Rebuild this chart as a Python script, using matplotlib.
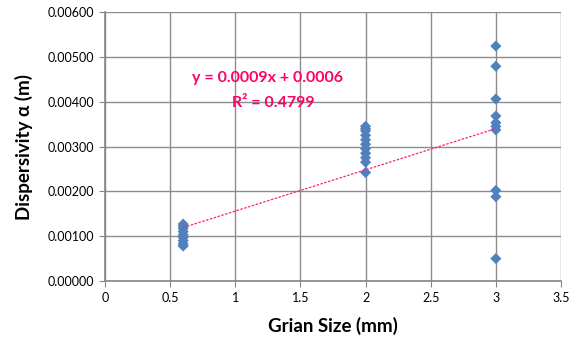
import numpy as np
import matplotlib.pyplot as plt

plt.rcParams['font.family'] = ['Lato', 'DejaVu Sans']

# grain size (mm) and measured dispersivity (m)
size_06 = [0.00078, 0.00083, 0.00090, 0.00097, 0.00103, 0.00110, 0.00117, 0.00122, 0.00127]
size_2 = [0.00242, 0.00265, 0.00275, 0.00285, 0.00295, 0.00305, 0.00315, 0.00325, 0.00335, 0.00340, 0.00345]
size_3 = [0.00524, 0.00479, 0.00406, 0.00368, 0.00353, 0.00345, 0.00337, 0.00202, 0.00188, 0.00050]

x = np.array([0.6] * len(size_06) + [2] * len(size_2) + [3] * len(size_3))
y = np.array(size_06 + size_2 + size_3)

# linear trendline
trend_slope = 0.00092
trend_intercept = 0.00064
eq_text = 'y = 0.0009x + 0.0006'
r2_text = 'R² = 0.4799'

fig = plt.figure(figsize=(5.76, 3.49), dpi=100)
ax = fig.add_axes([105 / 576, 1 - 281 / 349, 456 / 576, 269 / 349])

xl = np.array([x.min(), x.max()])
ax.plot(xl, trend_slope * xl + trend_intercept, color='#FF1F7A', linestyle=(0, (2, 1.2)),
        linewidth=0.9, zorder=3)

ax.scatter(x, y, marker='D', s=32, color='#4F81BD', edgecolors='none', zorder=2)

ax.text(1.25, 0.00452, eq_text, color='#FF0066', fontsize=11.5, fontweight='bold', ha='center', va='center')
ax.text(1.29, 0.00397, r2_text, color='#FF0066', fontsize=11.5, fontweight='bold', ha='center', va='center')

ax.set_xlim(0, 3.5)
ax.set_ylim(0, 0.006)
ax.set_xticks(np.arange(0, 3.51, 0.5))
ax.set_xticklabels(['0', '0.5', '1', '1.5', '2', '2.5', '3', '3.5'])
ax.set_yticks(np.arange(0, 0.00601, 0.001))
ax.set_yticklabels([f'{v:.5f}' for v in np.arange(0, 0.00601, 0.001)])
ax.tick_params(labelsize=9, direction='out', length=4, color='#868686', pad=4)

ax.grid(True, color='#8C8C8C', linewidth=1)
ax.set_axisbelow(True)
for s in ['top', 'right']:
    ax.spines[s].set_visible(False)
for s in ['left', 'bottom']:
    ax.spines[s].set_color('#868686')
    ax.spines[s].set_linewidth(1.2)

ax.set_xlabel('Grian Size (mm)', fontsize=13.5, fontweight='bold', labelpad=9)
ax.set_ylabel('Dispersivity α (m)', fontsize=13.5, fontweight='bold', labelpad=10)

fig.savefig('out.png', dpi=100)
